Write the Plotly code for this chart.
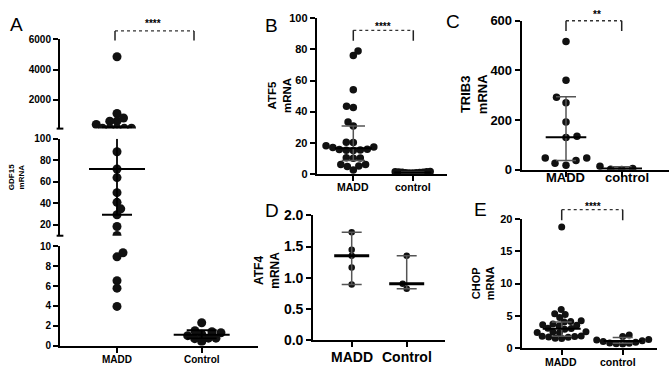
import numpy as np
import plotly.graph_objects as go

W, H = 669, 374
FONT = "Liberation Sans, Arial, sans-serif"

# ------------------------- data -------------------------
a_groups = ["MADD", "Control"]
a_madd = [4850, 1100, 800, 590, 590, 370, 110, 120, 130, 115, 125,
          88, 72, 64, 50, 41, 35, 29.5, 18.6, 10.2,
          9.35, 8.94, 6.53, 5.79, 3.95]
a_control = [2.3, 1.3, 1.5, 0.75, 0.75, 1.15, 0.4, 1.0, 0.7, 1.4]
a_median = [72, 1.1]
a_q1 = [29.5, 0.72]
a_q3 = [190, 1.55]
a_ticks_bottom = [0, 2, 4, 6, 8, 10]
a_ticks_middle = [20, 40, 60, 80, 100]
a_ticks_top = [2000, 4000, 6000]

b_groups = ["MADD", "control"]
b_madd = [79, 76, 54, 43.4, 42.6, 33.4, 30.7, 20.1, 20.3, 18, 17, 17.2,
          15.0, 15.4, 15.8, 15.2, 15.6, 10.2, 10.0, 10.4,
          4.7, 6.1, 6.0, 2.5, 5.1]
b_control = [1.5, 1.2, 1.0, 0.8, 0.6, 1.3, 0.9, 0.7, 1.1, 0.5, 1.4]
b_median = [16.4, 0.9]
b_q1 = [8.6, 0.6]
b_q3 = [30.7, 1.3]
b_ticks = [0, 20, 40, 60, 80, 100]

c_groups = ["MADD", "control"]
c_madd = [516, 360, 292, 270, 192, 130, 135, 47, 47.5, 37, 18, 26]
c_control = [2, 14, 5, 1]
c_median = [131, 5]
c_q1 = [37, 1]
c_q3 = [294, 12]
c_ticks = [0, 200, 400, 600]

d_groups = ["MADD", "Control"]
d_madd = [1.73, 1.45, 1.35, 1.165, 0.89]
d_control = [1.35, 0.90, 0.82]
d_median = [1.35, 0.90]
d_low = [0.89, 0.82]
d_high = [1.73, 1.35]
d_ticks = [0, 0.5, 1.0, 1.5, 2.0]

e_groups = ["MADD", "control"]
e_madd = [18.8, 5.95, 5.3, 5.2, 4.7, 4.2, 4.1, 4.0, 3.7, 3.6, 3.5, 3.4, 3.05,
          3.0, 2.9, 2.5, 2.45, 2.4, 2.35, 1.85, 1.8, 1.75, 1.7, 1.65, 1.5, 1.45]
e_control = [2.0, 1.75, 1.3, 1.2, 1.1, 1.0, 0.85, 0.7, 0.65, 0.6, 0.75]
e_median = [2.95, 1.05]
e_q1 = [1.8, 0.7]
e_q3 = [4.0, 1.6]
e_ticks = [0, 5, 10, 15, 20]

# ------------------------- helpers -------------------------
def ydom(top, bot):
    return [1 - bot / H, 1 - top / H]

def xgeom(px0, px1, c0, c1):
    u = c1 - c0
    return [px0 / W, px1 / W], [(px0 - c0) / u, (px1 - c0) / u], u, c0

def lin(r0, r1, p0, p1):
    return lambda v: p0 + (v - r0) / (r1 - r0) * (p1 - p0)

def swarm(vals, ymap, gap, maxoff=70.0):
    order = sorted(range(len(vals)), key=lambda i: vals[i])
    placed, offs = [], [0.0] * len(vals)
    for n, i in enumerate(order):
        y = ymap(vals[i])
        chosen, found = 0.0, False
        for s in np.arange(0, maxoff, 0.25):
            cands = [0.0] if s == 0 else ([s, -s] if n % 2 == 0 else [-s, s])
            for c in cands:
                if all((c - px) ** 2 + (y - py) ** 2 >= gap ** 2 - 1e-9 for px, py in placed):
                    chosen, found = c, True
                    break
            if found:
                break
        placed.append((chosen, y))
        offs[i] = chosen
    return offs

def yax(domain, rng, tickvals, size, anchor, fmt="{:g}", lw=2):
    return dict(domain=domain, range=rng, tickvals=tickvals,
                ticktext=["<b>" + fmt.format(v) + "</b>" for v in tickvals],
                showline=True, linecolor="black", linewidth=lw, ticks="outside",
                ticklen=5, tickwidth=lw, tickcolor="black", showgrid=False,
                zeroline=False, tickfont=dict(size=size, family=FONT, color="black"),
                anchor=anchor, fixedrange=True)

def xax(domain, rng, anchor, lw=2):
    return dict(domain=domain, range=rng, tickvals=[0, 1], showticklabels=False,
                showline=True, linecolor="black", linewidth=lw, ticks="outside",
                ticklen=5, tickwidth=lw, tickcolor="black", showgrid=False,
                zeroline=False, anchor=anchor, fixedrange=True)

fig = go.Figure()
shapes, annotations = [], []

def pts(xs, ys, xa, ya, size):
    fig.add_trace(go.Scatter(x=xs, y=ys, xaxis=xa, yaxis=ya, mode="markers",
                             marker=dict(size=size, color="#111111", line=dict(width=0)),
                             hoverinfo="skip"))

def seg(x0, x1, y0, y1, xa, ya, color="black", width=2):
    fig.add_trace(go.Scatter(x=[x0, x1], y=[y0, y1], xaxis=xa, yaxis=ya, mode="lines",
                             line=dict(color=color, width=width), hoverinfo="skip"))

def summary(i, med, lo, hi, xa, ya, mw, cw, mcol="black", mwid=2, wcol="#555555", wwid=1.5):
    seg(i, i, lo, hi, xa, ya, wcol, wwid)
    seg(i - cw, i + cw, lo, lo, xa, ya, wcol, wwid)
    seg(i - cw, i + cw, hi, hi, xa, ya, wcol, wwid)
    seg(i - mw, i + mw, med, med, xa, ya, mcol, mwid)

def bracket(xref, c0, u, px0, px1, top, bot, stars, sx, sy):
    x0 = (px0 - c0) / u
    x1 = (px1 - c0) / u
    ln = dict(color="#222222", width=1.5)
    shapes.append(dict(type="line", xref=xref, yref="paper", x0=x0, x1=x1,
                       y0=1 - top / H, y1=1 - top / H,
                       line=dict(color="#333333", width=1.3, dash="dot")))
    for xx in (x0, x1):
        shapes.append(dict(type="line", xref=xref, yref="paper", x0=xx, x1=xx,
                           y0=1 - top / H, y1=1 - bot / H, line=ln))
    annotations.append(dict(text="<b>" + stars + "</b>", xref="paper", yref="paper",
                            x=sx / W, y=1 - sy / H, showarrow=False, xanchor="center",
                            yanchor="middle", font=dict(size=10, family=FONT)))

def label(text, x, y, size, angle=0, bold=True):
    annotations.append(dict(text=("<b>" + text + "</b>") if bold else text,
                            xref="paper", yref="paper", x=x / W, y=1 - y / H,
                            showarrow=False, xanchor="center", yanchor="middle",
                            textangle=angle,
                            font=dict(size=size, family=FONT, color="black")))

layout_axes = {}

# ------------------------- Panel A (broken axis) -------------------------
axd, axr, ua, ca = xgeom(60, 258, 117, 201.7)
segs = [(0, 10, 352.7, 249, "y", "yaxis", a_ticks_bottom),
        (10, 100, 237.9, 136.7, "y2", "yaxis2", a_ticks_middle),
        (100, 6000, 126, 32.7, "y3", "yaxis3", a_ticks_top)]
layout_axes["xaxis"] = xax(axd, axr, "y")
for r0, r1, p0, p1, yn, yk, tv in segs:
    layout_axes[yk] = yax(ydom(p1, p0), [r0, r1], tv, 10, "x")

def seg_of(v):
    for s in segs:
        if v <= s[1]:
            return s
    return segs[-1]

def a_ymap(v):
    s = seg_of(v)
    return lin(s[0], s[1], s[2], s[3])(v)

for gi, vals, gap in ((0, a_madd, 7.2), (1, a_control, 7.5)):
    offs = swarm(vals, a_ymap, gap)
    for s in segs:
        idx = [k for k, v in enumerate(vals) if seg_of(v) is s]
        if idx:
            pts([gi + offs[k] / ua for k in idx], [vals[k] for k in idx], "x", s[4], 9)

mw, cw = 28 / ua, 15 / ua
for gi in range(2):
    lo, hi, med = a_q1[gi], a_q3[gi], a_median[gi]
    for r0, r1, p0, p1, yn, yk, tv in segs:
        a, b = max(lo, r0), min(hi, r1)
        if a < b:
            seg(gi, gi, a, b, "x", yn, "black", 1.8)
        if r0 <= lo <= r1:
            seg(gi - cw, gi + cw, lo, lo, "x", yn, "black", 1.8)
        if r0 < hi <= r1:
            seg(gi - cw, gi + cw, hi, hi, "x", yn, "black", 1.8)
        if r0 <= med <= r1:
            seg(gi - mw, gi + mw, med, med, "x", yn, "black", 2)

for yr in ("y3 domain", "y2 domain"):
    shapes.append(dict(type="line", xref="x domain", yref=yr, x0=-0.017, x1=0.017,
                       y0=0, y1=0, line=dict(color="black", width=2)))

bracket("x", ca, ua, 115, 194, 24, 34, "****", 153, 16)
label(a_groups[0], 117, 366.7, 10)
label(a_groups[1], 202, 366.7, 10)
label("GDF15<br>mRNA", 16, 176.7, 8)
annotations[-1]["textangle"] = -90
label("A", 16, 17, 19, bold=False)

# ------------------------- Panel B -------------------------
bxd, bxr, ub, cb = xgeom(316.7, 447, 353.3, 412.7)
layout_axes["xaxis2"] = xax(bxd, bxr, "y4")
layout_axes["yaxis4"] = yax(ydom(10.7, 173.3), [0, 100], b_ticks, 11, "x2")
bmap = lin(0, 100, 173.3, 10.7)
for gi, vals, gap in ((0, b_madd, 6.8), (1, b_control, 3.4)):
    offs = swarm(vals, bmap, gap)
    pts([gi + o / ub for o in offs], vals, "x2", "y4", 7.5)
for gi in range(2):
    summary(gi, b_median[gi], b_q1[gi], b_q3[gi], "x2", "y4", 18.5 / ub, 11.7 / ub)
bracket("x2", cb, ub, 353.3, 413.3, 23.3, 34.3, "****", 383.3, 19)
label(b_groups[0], 353.3, 186.7, 10.5)
label(b_groups[1], 413, 186.7, 10.5)
label("ATF5<br>mRNA", 279, 92, 11.5, angle=-90)
label("B", 271.7, 18, 19, bold=False)

# ------------------------- Panel C -------------------------
cxd, cxr, uc, cc = xgeom(521.7, 669, 566, 621.7)
layout_axes["xaxis3"] = xax(cxd, cxr, "y5")
layout_axes["yaxis5"] = yax(ydom(13.3, 169), [0, 600], c_ticks, 13, "x3")
cmap = lin(0, 600, 169, 13.3)
for gi, vals, gap in ((0, c_madd, 11), (1, c_control, 11)):
    offs = swarm(vals, cmap, gap)
    pts([gi + o / uc for o in offs], vals, "x3", "y5", 7.5)
for gi in range(2):
    summary(gi, c_median[gi], c_q1[gi], c_q3[gi], "x3", "y5", 20.3 / uc, 10 / uc)
bracket("x3", cc, uc, 566, 621.7, 13.3, 24, "**", 596.7, 7)
label(c_groups[0], 565.5, 177, 13)
label(c_groups[1], 627, 177, 13)
label("TRIB3<br>mRNA", 474, 90, 13, angle=-90)
label("C", 453.3, 14, 19, bold=False)

# ------------------------- Panel D -------------------------
dxd, dxr, ud, cd = xgeom(313.3, 445, 351.7, 406.7)
layout_axes["xaxis4"] = xax(dxd, dxr, "y6", lw=2.3)
layout_axes["yaxis6"] = yax(ydom(216.7, 346.7), [0, 2], d_ticks, 14, "x4", fmt="{:.1f}", lw=2.3)
dmap = lin(0, 2, 346.7, 216.7)
for gi, vals, gap in ((0, d_madd, 6.5), (1, d_control, 6.5)):
    offs = swarm(vals, dmap, gap)
    pts([gi + o / ud for o in offs], vals, "x4", "y6", 6.5)
for gi in range(2):
    summary(gi, d_median[gi], d_low[gi], d_high[gi], "x4", "y6", 17.5 / ud, 10 / ud,
            mwid=3, wcol="#555555", wwid=1.5)
label(d_groups[0], 351.7, 365, 14)
label(d_groups[1], 406.7, 365, 14)
label("ATF4<br>mRNA", 267.5, 274, 12, angle=-90)
label("D", 272.3, 212, 19, bold=False)

# ------------------------- Panel E -------------------------
exd, exr, ue, ce = xgeom(521.7, 656.7, 561.7, 622.7)
layout_axes["xaxis5"] = xax(exd, exr, "y7")
layout_axes["yaxis7"] = yax(ydom(220.7, 355), [0, 20], e_ticks, 11, "x5")
emap = lin(0, 20, 355, 220.7)
for gi, vals, gap in ((0, e_madd, 6.4), (1, e_control, 6.5)):
    offs = swarm(vals, emap, gap)
    pts([gi + o / ue for o in offs], vals, "x5", "y7", 7)
for gi in range(2):
    summary(gi, e_median[gi], e_q1[gi], e_q3[gi], "x5", "y7", 19 / ue, 10 / ue)
bracket("x5", ce, ue, 561.7, 622.7, 210.7, 221.7, "****", 593, 207)
label(e_groups[0], 561.3, 370, 10.5)
label(e_groups[1], 617.5, 370, 10.5)
label("CHOP<br>mRNA", 482.5, 288, 11, angle=-90)
label("E", 480, 211, 19, bold=False)

fig.update_layout(width=W, height=H, margin=dict(l=0, r=0, t=0, b=0),
                  paper_bgcolor="white", plot_bgcolor="rgba(0,0,0,0)",
                  showlegend=False, font=dict(family=FONT, color="black"),
                  shapes=shapes, annotations=annotations, **layout_axes)

fig.write_html("out.html", config={"displayModeBar": False})
